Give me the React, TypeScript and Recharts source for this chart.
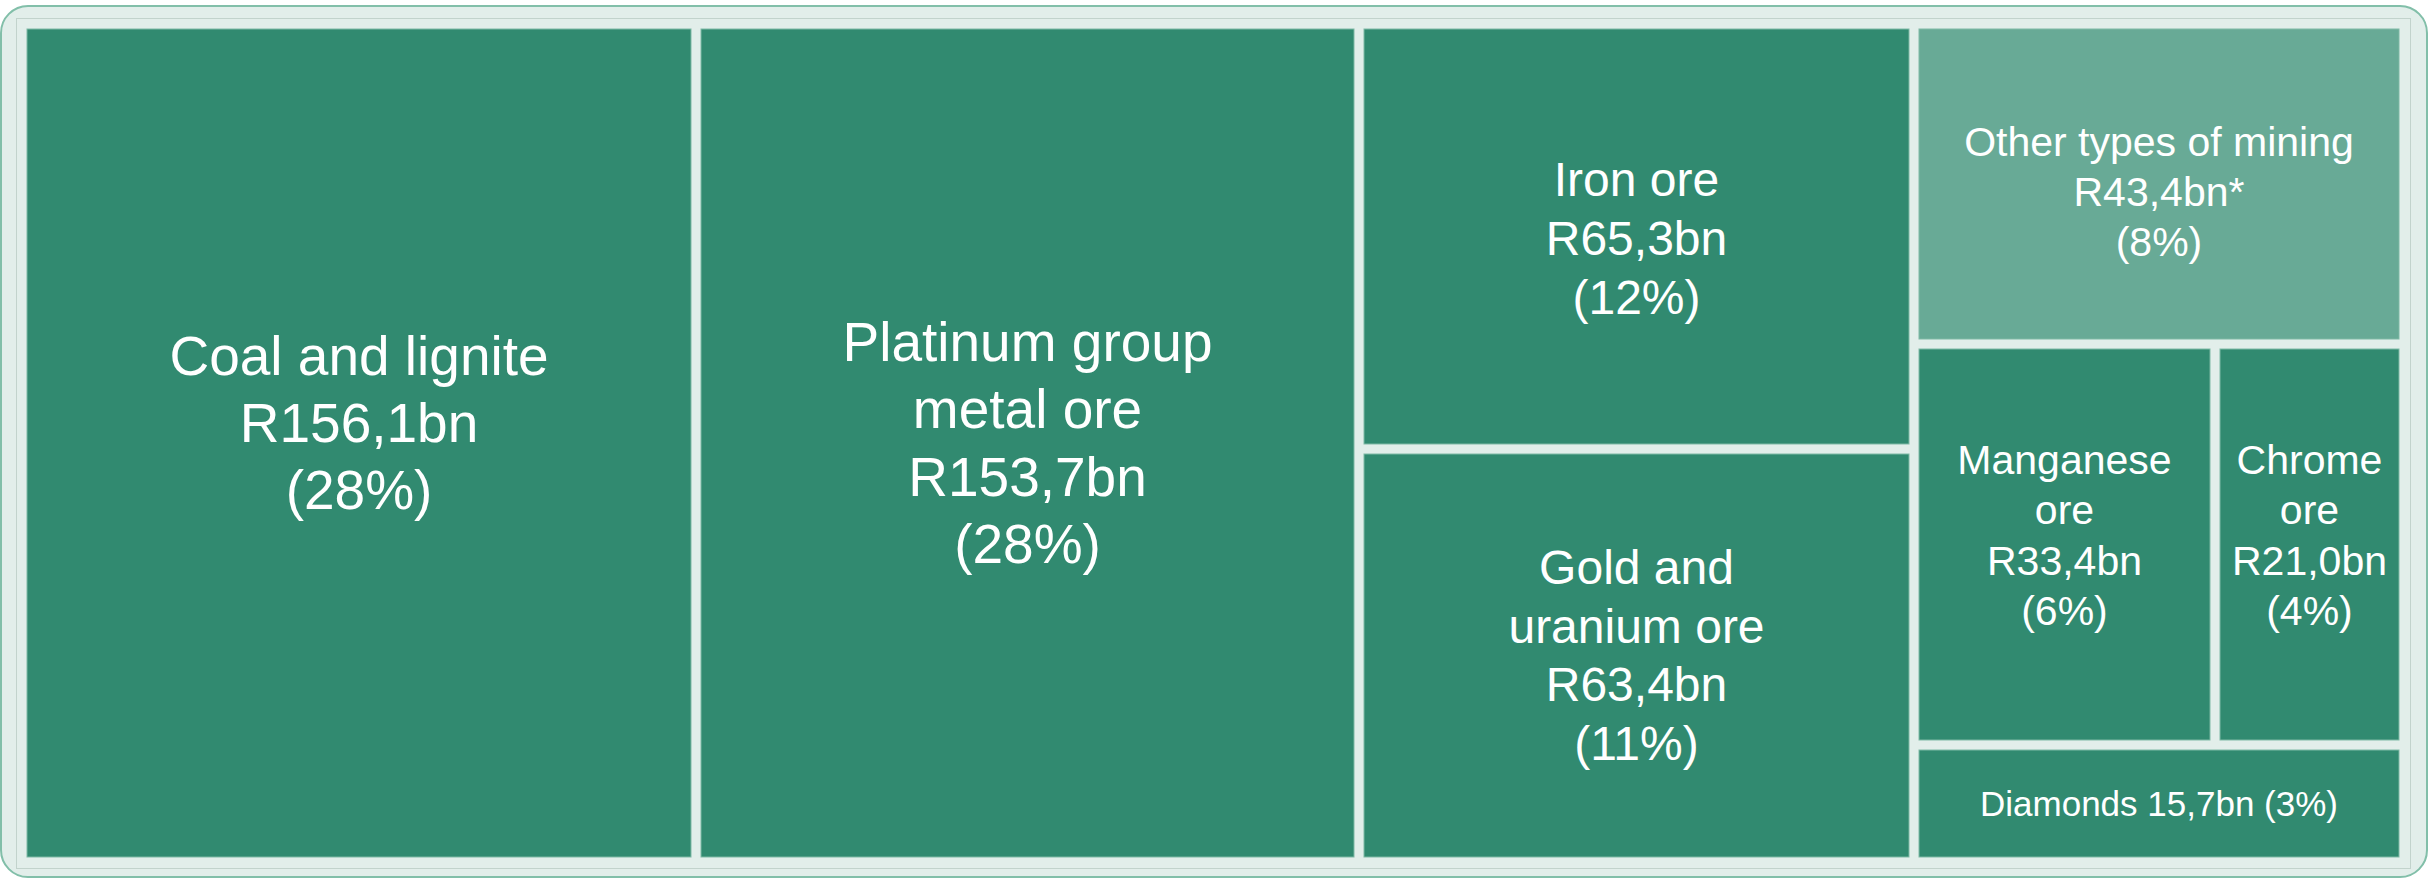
import { Treemap } from "recharts";

const categories = [
  "Coal and lignite",
  "Platinum group metal ore",
  "Iron ore",
  "Gold and uranium ore",
  "Other types of mining",
  "Manganese ore",
  "Chrome ore",
  "Diamonds",
];
const values = [156.1, 153.7, 65.3, 63.4, 43.4, 33.4, 21.0, 15.7];
const tileLabels = [
  ["Coal and lignite", "R156,1bn", "(28%)"],
  ["Platinum group", "metal ore", "R153,7bn", "(28%)"],
  ["Iron ore", "R65,3bn", "(12%)"],
  ["Gold and", "uranium ore", "R63,4bn", "(11%)"],
  ["Other types of mining", "R43,4bn*", "(8%)"],
  ["Manganese", "ore", "R33,4bn", "(6%)"],
  ["Chrome", "ore", "R21,0bn", "(4%)"],
  ["Diamonds 15,7bn (3%)"],
];

const data = categories.map((name, i) => ({
  name,
  value: values[i],
  lines: tileLabels[i],
}));

const TILE = "#318a70";
const TILE_LIGHT = "#68aa96";
const BG = "#e2eeea";

// label size / vertical nudge per tile
const labelStyle: Record<string, { size: number; dy: number }> = {
  "Coal and lignite": { size: 55, dy: -20 },
  "Platinum group metal ore": { size: 55, dy: 0 },
  "Iron ore": { size: 48, dy: 2 },
  "Gold and uranium ore": { size: 48, dy: 0 },
  "Other types of mining": { size: 41, dy: 8 },
  "Manganese ore": { size: 41, dy: -9 },
  "Chrome ore": { size: 41, dy: -9 },
  Diamonds: { size: 35, dy: 0 },
};

function Tile(props: any) {
  const { x, y, width, height, depth, name, lines } = props;
  if (depth !== 1) return null;
  const inset = 5;
  const st = labelStyle[name] || { size: 40, dy: 0 };
  const lh = st.size * 1.22;
  const cx = x + width / 2;
  const cy = y + height / 2 + st.dy;
  const top = cy - ((lines.length - 1) * lh) / 2;
  return (
    <g>
      <rect
        x={x + inset}
        y={y + inset}
        width={width - inset * 2}
        height={height - inset * 2}
        fill={name === "Other types of mining" ? TILE_LIGHT : TILE}
        stroke="#7fb9a5"
        strokeWidth={1}
      />
      {lines.map((line: string, i: number) => (
        <text
          key={i}
          x={cx}
          y={top + i * lh}
          textAnchor="middle"
          dominantBaseline="central"
          fill="#ffffff"
          stroke="none"
          fontSize={st.size}
          fontFamily="'Liberation Sans', Arial, sans-serif"
        >
          {line}
        </text>
      ))}
    </g>
  );
}

export default function App() {
  return (
    <div
      style={{
        position: "absolute",
        left: 0,
        top: 0,
        width: 2433,
        height: 879,
        background: "#ffffff",
      }}
    >
      <div
        style={{
          position: "absolute",
          left: 0,
          top: 5,
          width: 2424,
          height: 869,
          border: "2px solid #82bfa9",
          borderRadius: 28,
          background: BG,
        }}
      />
      <div
        style={{
          position: "absolute",
          left: 16,
          top: 18,
          width: 2393,
          height: 849,
          border: "1px solid #c2d3cc",
        }}
      />
      <div style={{ position: "absolute", left: 22, top: 24 }}>
        <Treemap
          width={2382}
          height={838}
          data={data}
          dataKey="value"
          nameKey="name"
          aspectRatio={1.2}
          isAnimationActive={false}
          content={<Tile />}
        />
      </div>
    </div>
  );
}
